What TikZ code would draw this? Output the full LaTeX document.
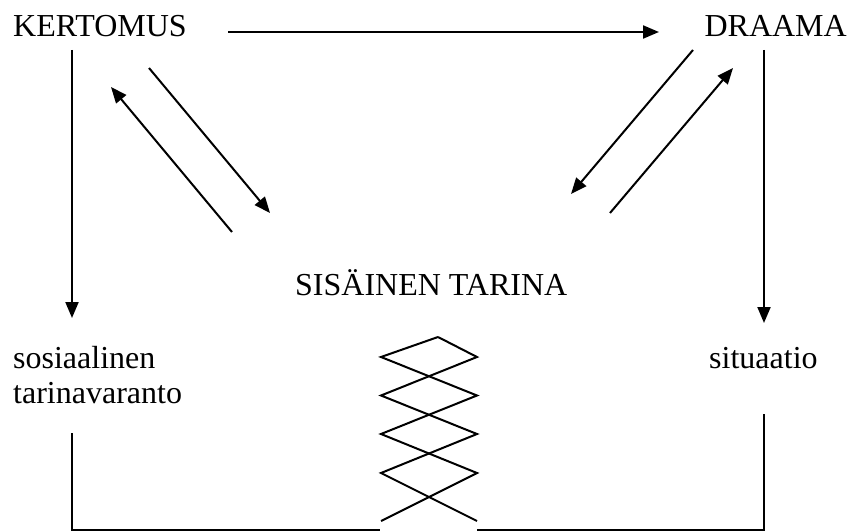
\documentclass[tikz,border=0pt]{standalone}
\usepackage{fontspec}
\setmainfont{Liberation Serif}
\usetikzlibrary{arrows.meta}
\begin{document}
\begin{tikzpicture}[x=1pt,y=-1pt,
  lbl/.style={inner sep=0pt,font=\fontsize{32}{35}\selectfont},
  ln/.style={line width=2pt},
  arr/.style={ln,-{Triangle[length=16pt,width=13pt]}}]
\useasboundingbox (0,0) rectangle (851,532);
% texts
\node[lbl,anchor=base west] (kert) at (13,37) {KERTOMUS};
\node[lbl,anchor=base east] (draama) at (847,37) {DRAAMA};
\node[lbl,anchor=base west] (sis) at (295,295) {SIS\"AINEN TARINA};
\node[lbl,anchor=base west,align=left] (sos) at (13,403) {sosiaalinen\\tarinavaranto};
\node[lbl,anchor=base west] (sit) at (709,368) {situaatio};
% connector ends
\coordinate (h1) at (228,32);
\coordinate (h2) at (659,32);
\coordinate (l1) at (72,50);
\coordinate (l2) at (72,318);
\coordinate (r1) at (764,50);
\coordinate (r2) at (764,323);
\coordinate (a1s) at (149,68);
\coordinate (a1e) at (270,213);
\coordinate (a2s) at (232,232);
\coordinate (a2e) at (111,87);
\coordinate (a3s) at (693,50);
\coordinate (a3e) at (571,194);
\coordinate (a4s) at (610,213);
\coordinate (a4e) at (733,68);
\coordinate (bl1) at (72,433);
\coordinate (bl2) at (72,530);
\coordinate (bl3) at (380,530);
\coordinate (br1) at (764,414);
\coordinate (br2) at (764,530);
\coordinate (br3) at (477,530);
% arrows
\draw[arr] (h1) -- (h2);
\draw[arr] (l1) -- (l2);
\draw[arr] (r1) -- (r2);
\draw[arr] (a1s) -- (a1e);
\draw[arr] (a2s) -- (a2e);
\draw[arr] (a3s) -- (a3e);
\draw[arr] (a4s) -- (a4e);
% bottom lines
\draw[ln] (bl1) -- (bl2) -- (bl3);
\draw[ln] (br1) -- (br2) -- (br3);
% zigzag
\coordinate (zt) at (438,337);
\draw[ln,line join=miter] (zt) -- (381,357) -- (477,395.5) -- (381,434) -- (477,473) -- (381,521);
\draw[ln,line join=miter] (zt) -- (477,357) -- (381,395.5) -- (477,434) -- (381,473) -- (477,521);
\end{tikzpicture}
\end{document}
